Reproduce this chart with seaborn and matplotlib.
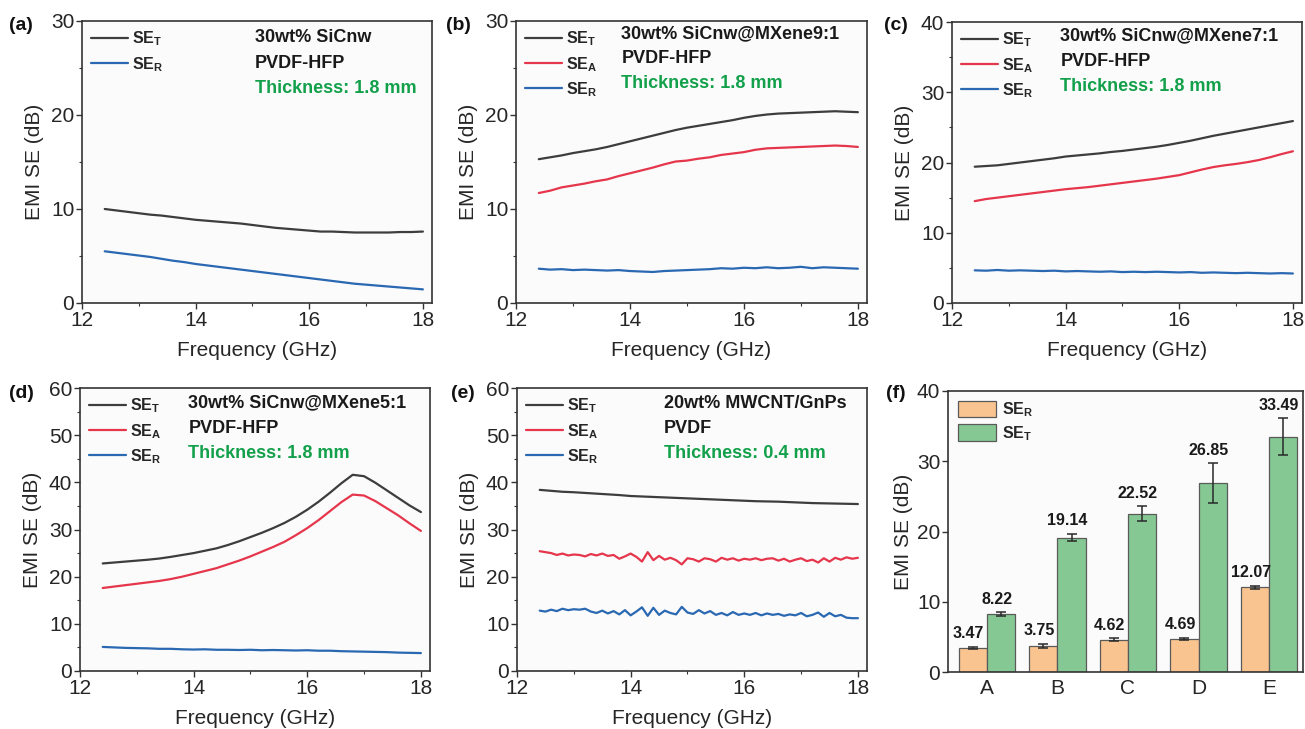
import matplotlib
matplotlib.use("Agg")
import matplotlib.pyplot as plt
import seaborn as sns
import pandas as pd
from matplotlib.ticker import MultipleLocator

# ---------------- data ----------------
freq = [12.4, 12.6, 12.8, 13.0, 13.2, 13.4, 13.6, 13.8, 14.0, 14.2, 14.4, 14.6, 14.8, 15.0,
        15.2, 15.4, 15.6, 15.8, 16.0, 16.2, 16.4, 16.6, 16.8, 17.0, 17.2, 17.4, 17.6, 17.8, 18.0]

freq_fine = [12.4, 12.5, 12.6, 12.7, 12.8, 12.9, 13.0, 13.1, 13.2, 13.3, 13.4, 13.5, 13.6, 13.7,
             13.8, 13.9, 14.0, 14.1, 14.2, 14.3, 14.4, 14.5, 14.6, 14.7, 14.8, 14.9, 15.0, 15.1,
             15.2, 15.3, 15.4, 15.5, 15.6, 15.7, 15.8, 15.9, 16.0, 16.1, 16.2, 16.3, 16.4, 16.5,
             16.6, 16.7, 16.8, 16.9, 17.0, 17.1, 17.2, 17.3, 17.4, 17.5, 17.6, 17.7, 17.8, 17.9, 18.0]

a_SET = [10.0, 9.85, 9.7, 9.55, 9.4, 9.3, 9.15, 9.0, 8.85, 8.75, 8.65, 8.55, 8.45, 8.3,
         8.15, 8.0, 7.9, 7.8, 7.7, 7.6, 7.6, 7.55, 7.5, 7.5, 7.5, 7.5, 7.55, 7.55, 7.6]
a_SER = [5.5, 5.35, 5.2, 5.05, 4.9, 4.7, 4.5, 4.35, 4.15, 4.0, 3.85, 3.7, 3.55, 3.4,
         3.25, 3.1, 2.95, 2.8, 2.65, 2.5, 2.35, 2.2, 2.05, 1.95, 1.85, 1.75, 1.65, 1.55, 1.45]

b_SET = [15.3, 15.5, 15.7, 15.95, 16.15, 16.35, 16.6, 16.9, 17.2, 17.5, 17.8, 18.1, 18.4, 18.65,
         18.85, 19.05, 19.25, 19.45, 19.7, 19.9, 20.05, 20.15, 20.2, 20.25, 20.3, 20.35, 20.4, 20.35, 20.3]
b_SEA = [11.7, 11.95, 12.3, 12.5, 12.7, 12.95, 13.15, 13.5, 13.8, 14.1, 14.4, 14.75, 15.05, 15.15,
         15.35, 15.5, 15.75, 15.9, 16.05, 16.3, 16.45, 16.5, 16.55, 16.6, 16.65, 16.7, 16.75, 16.7, 16.6]
b_SER = [3.65, 3.55, 3.6, 3.5, 3.55, 3.5, 3.45, 3.5, 3.4, 3.35, 3.3, 3.4, 3.45, 3.5,
         3.55, 3.6, 3.7, 3.65, 3.75, 3.7, 3.8, 3.7, 3.75, 3.85, 3.7, 3.8, 3.75, 3.7, 3.65]

c_SET = [19.4, 19.5, 19.6, 19.8, 20.0, 20.2, 20.4, 20.6, 20.85, 21.0, 21.15, 21.3, 21.5, 21.65,
         21.85, 22.05, 22.25, 22.5, 22.8, 23.1, 23.45, 23.8, 24.1, 24.4, 24.7, 25.0, 25.3, 25.6, 25.9]
c_SEA = [14.5, 14.8, 15.0, 15.2, 15.4, 15.6, 15.8, 16.0, 16.2, 16.35, 16.5, 16.7, 16.9, 17.1,
         17.3, 17.5, 17.7, 17.95, 18.2, 18.6, 19.0, 19.35, 19.6, 19.8, 20.05, 20.35, 20.75, 21.2, 21.6]
c_SER = [4.65, 4.6, 4.7, 4.6, 4.65, 4.6, 4.55, 4.6, 4.5, 4.55, 4.5, 4.45, 4.5, 4.4,
         4.45, 4.4, 4.45, 4.4, 4.35, 4.4, 4.3, 4.35, 4.3, 4.25, 4.3, 4.25, 4.2, 4.25, 4.2]

d_SET = [22.8, 23.0, 23.2, 23.4, 23.6, 23.85, 24.2, 24.6, 25.0, 25.5, 26.0, 26.7, 27.5, 28.4,
         29.3, 30.3, 31.4, 32.7, 34.2, 35.9, 37.8, 39.8, 41.6, 41.3, 39.9, 38.3, 36.7, 35.1, 33.7]
d_SEA = [17.6, 17.9, 18.2, 18.5, 18.8, 19.1, 19.5, 20.0, 20.6, 21.2, 21.8, 22.6, 23.4, 24.3,
         25.3, 26.3, 27.4, 28.8, 30.3, 32.0, 33.9, 35.8, 37.4, 37.2, 36.0, 34.5, 33.0, 31.3, 29.7]
d_SER = [5.1, 5.0, 4.9, 4.85, 4.8, 4.7, 4.7, 4.6, 4.55, 4.6, 4.5, 4.5, 4.45, 4.5,
         4.4, 4.45, 4.4, 4.35, 4.4, 4.3, 4.3, 4.2, 4.15, 4.1, 4.05, 4.0, 3.9, 3.85, 3.8]

e_SET = [38.4, 38.2, 38.0, 37.9, 37.75, 37.6, 37.45, 37.3, 37.1, 37.0, 36.9, 36.8, 36.7, 36.6,
         36.5, 36.4, 36.3, 36.2, 36.1, 36.0, 35.95, 35.9, 35.8, 35.7, 35.6, 35.55, 35.5, 35.45, 35.4]
e_SEA = [25.4, 25.2, 25.0, 24.6, 24.9, 24.5, 24.7, 24.6, 24.3, 24.8, 24.5, 24.9, 24.4, 24.6,
         23.8, 24.3, 24.9, 24.2, 23.2, 25.2, 23.5, 24.4, 23.6, 24.0, 23.5, 22.6, 23.9, 23.7,
         23.2, 23.9, 23.7, 23.2, 24.0, 23.6, 23.9, 23.4, 23.8, 23.6, 23.9, 23.5, 23.8, 23.9,
         23.4, 23.8, 23.2, 23.6, 23.9, 23.3, 23.6, 23.0, 23.9, 23.2, 24.0, 23.6, 24.1, 23.8, 24.0]
e_SER = [12.8, 12.6, 13.0, 12.7, 13.2, 12.9, 13.1, 13.0, 13.2, 12.6, 12.3, 12.8, 12.2, 12.7,
         12.0, 12.9, 11.8, 12.6, 13.5, 11.7, 13.4, 11.9, 12.8, 12.3, 12.0, 13.6, 12.4, 12.1,
         12.9, 12.2, 12.7, 11.9, 12.3, 11.8, 12.5, 11.9, 12.2, 11.9, 12.3, 11.8, 12.2, 11.9,
         12.1, 11.7, 12.0, 11.8, 12.3, 11.6, 11.9, 12.4, 11.5, 12.3, 11.6, 11.9, 11.3, 11.2, 11.2]

bar_cats = ["A", "B", "C", "D", "E"]
bar_SER = [3.47, 3.75, 4.62, 4.69, 12.07]
bar_SET = [8.22, 19.14, 22.52, 26.85, 33.49]
err_SER = [0.15, 0.3, 0.15, 0.15, 0.2]
err_SET = [0.3, 0.55, 1.05, 2.85, 2.6]

# ---------------- style ----------------
sns.set_theme(style="ticks")
plt.rcParams["font.family"] = ["Liberation Sans", "DejaVu Sans"]
plt.rcParams["mathtext.fontset"] = "custom"
plt.rcParams["mathtext.rm"] = "Liberation Sans"
plt.rcParams["mathtext.bf"] = "Liberation Sans:bold"
plt.rcParams["mathtext.it"] = "Liberation Sans:italic"

C_T = "#3d3d3d"
C_A = "#e5364c"
C_R = "#2a68b2"
C_GREEN = "#12a04a"
C_SPINE = "#333333"

TICK_FS = 15
LABEL_FS = 15
LEG_FS = 11.5
NOTE_FS = 13
PANEL_FS = 14
BAR_FS = 11.5

W, H = 1305, 729
fig = plt.figure(figsize=(W / 100, H / 100), dpi=100)


def add_ax(l, r, t, b):
    return fig.add_axes([l / W, (H - b) / H, (r - l) / W, (b - t) / H])


LBL_T = r"$\mathbf{SE_T}$"
LBL_A = r"$\mathbf{SE_A}$"
LBL_R = r"$\mathbf{SE_R}$"


def style_axis(ax, ymax, ymajor, yminor, xlim=(12, 18.16)):
    ax.set_facecolor("#fbfbfb")
    ax.set_xlim(*xlim)
    ax.set_ylim(0, ymax)
    ax.xaxis.set_major_locator(MultipleLocator(2))
    ax.xaxis.set_minor_locator(MultipleLocator(1))
    ax.yaxis.set_major_locator(MultipleLocator(ymajor))
    ax.yaxis.set_minor_locator(MultipleLocator(yminor))
    ax.tick_params(axis="both", which="major", direction="out", length=4, width=1.0,
                   labelsize=TICK_FS, color=C_SPINE, pad=1.5)
    ax.tick_params(axis="both", which="minor", direction="out", length=2.5, width=0.8, color=C_SPINE)
    for s in ax.spines.values():
        s.set_visible(True)
        s.set_linewidth(1.2)
        s.set_color(C_SPINE)
    ax.set_xlabel("Frequency (GHz)", fontsize=LABEL_FS, labelpad=8)
    ax.set_ylabel("EMI SE (dB)", fontsize=LABEL_FS, labelpad=5)


def line_panel(ax, series, ymax, ymajor, yminor, texts, tx, ty0, thick):
    for xs, ys, lbl, col in series:
        df = pd.DataFrame({"Frequency": xs, "SE": ys})
        sns.lineplot(data=df, x="Frequency", y="SE", ax=ax, color=col, lw=1.6, label=lbl)
    style_axis(ax, ymax, ymajor, yminor)
    ax.legend(loc="upper left", bbox_to_anchor=(0.0, 1.0), frameon=False, fontsize=LEG_FS,
              handlelength=2.3, handletextpad=0.25, labelspacing=0.4, borderaxespad=0.25,
              borderpad=0.3)
    for i, t in enumerate(texts):
        ax.text(tx, ty0 - i * 0.089, t, transform=ax.transAxes, fontsize=NOTE_FS, fontweight="bold",
                color="#1a1a1a", va="center", ha="left")
    ax.text(tx, ty0 - len(texts) * 0.089, thick, transform=ax.transAxes, fontsize=NOTE_FS,
            fontweight="bold", color=C_GREEN, va="center", ha="left")


# (a)
ax_a = add_ax(82, 432, 21, 303)
line_panel(ax_a, [(freq, a_SET, LBL_T, C_T), (freq, a_SER, LBL_R, C_R)], 30, 10, 5,
           ["30wt% SiCnw", "PVDF-HFP"], 0.495, 0.94, "Thickness: 1.8 mm")
# (b)
ax_b = add_ax(516, 867, 21, 303)
line_panel(ax_b, [(freq, b_SET, LBL_T, C_T), (freq, b_SEA, LBL_A, C_A), (freq, b_SER, LBL_R, C_R)],
           30, 10, 5, ["30wt% SiCnw@MXene9:1", "PVDF-HFP"], 0.30, 0.955, "Thickness: 1.8 mm")
# (c)
ax_c = add_ax(952, 1302, 22, 303)
line_panel(ax_c, [(freq, c_SET, LBL_T, C_T), (freq, c_SEA, LBL_A, C_A), (freq, c_SER, LBL_R, C_R)],
           40, 10, 5, ["30wt% SiCnw@MXene7:1", "PVDF-HFP"], 0.31, 0.95, "Thickness: 1.8 mm")
# (d)
ax_d = add_ax(80, 430, 388, 671)
line_panel(ax_d, [(freq, d_SET, LBL_T, C_T), (freq, d_SEA, LBL_A, C_A), (freq, d_SER, LBL_R, C_R)],
           60, 10, 5, ["30wt% SiCnw@MXene5:1", "PVDF-HFP"], 0.31, 0.947, "Thickness: 1.8 mm")
# (e)
ax_e = add_ax(517, 867, 388, 671)
line_panel(ax_e, [(freq, e_SET, LBL_T, C_T), (freq_fine, e_SEA, LBL_A, C_A),
                  (freq_fine, e_SER, LBL_R, C_R)],
           60, 10, 5, ["20wt% MWCNT/GnPs", "PVDF"], 0.42, 0.945, "Thickness: 0.4 mm")

# (f)
ax_f = add_ax(948, 1303, 391, 672)
df_bar = pd.DataFrame({
    "Sample": bar_cats * 2,
    "SE": bar_SER + bar_SET,
    "Type": ["SER"] * len(bar_cats) + ["SET"] * len(bar_cats),
})
sns.barplot(data=df_bar, x="Sample", y="SE", hue="Type", ax=ax_f,
            palette={"SER": "#f9c48f", "SET": "#85c893"}, edgecolor="#5a5a5a", linewidth=0.9,
            errorbar=None, width=0.8, saturation=1)
ax_f.set_facecolor("#fbfbfb")
for cont, vals, errs in zip(ax_f.containers, [bar_SER, bar_SET], [err_SER, err_SET]):
    xs = [p.get_x() + p.get_width() / 2 for p in cont.patches]
    ax_f.errorbar(xs, vals, yerr=errs, fmt="none", ecolor="#2a2a2a", elinewidth=1.1, capsize=3.5,
                  capthick=1.1, zorder=5)
    for x, v, e in zip(xs, vals, errs):
        ax_f.text(x - 0.06, v + e + 0.8, f"{v:.2f}", ha="center", va="bottom", fontsize=BAR_FS,
                  fontweight="bold", color="#1a1a1a")
ax_f.set_xlim(-0.55, 4.48)
ax_f.set_ylim(0, 40)
ax_f.yaxis.set_major_locator(MultipleLocator(10))
ax_f.tick_params(axis="y", which="major", direction="out", length=4, width=1.0, labelsize=TICK_FS,
                 color=C_SPINE, pad=1.5)
ax_f.tick_params(axis="x", which="major", direction="out", length=0, labelsize=TICK_FS, pad=5)
for s in ax_f.spines.values():
    s.set_visible(True)
    s.set_linewidth(1.2)
    s.set_color(C_SPINE)
ax_f.set_xlabel("")
ax_f.set_ylabel("EMI SE (dB)", fontsize=LABEL_FS, labelpad=3)
handles, _ = ax_f.get_legend_handles_labels()
ax_f.legend(handles, [LBL_R, LBL_T], loc="upper left", bbox_to_anchor=(0.0, 1.0), frameon=False,
            fontsize=LEG_FS, handlelength=2.4, handleheight=1.2, handletextpad=0.4,
            labelspacing=0.3, borderaxespad=0.3, borderpad=0.3)

# panel labels
for lab, px, py in [("(a)", 9, 25), ("(b)", 446, 25), ("(c)", 884, 25),
                    ("(d)", 9, 393), ("(e)", 451, 393), ("(f)", 886, 393)]:
    fig.text(px / W, 1 - py / H, lab, fontsize=PANEL_FS, fontweight="bold", ha="left", va="center",
             color="#111111")

fig.savefig("out.png", dpi=100)
